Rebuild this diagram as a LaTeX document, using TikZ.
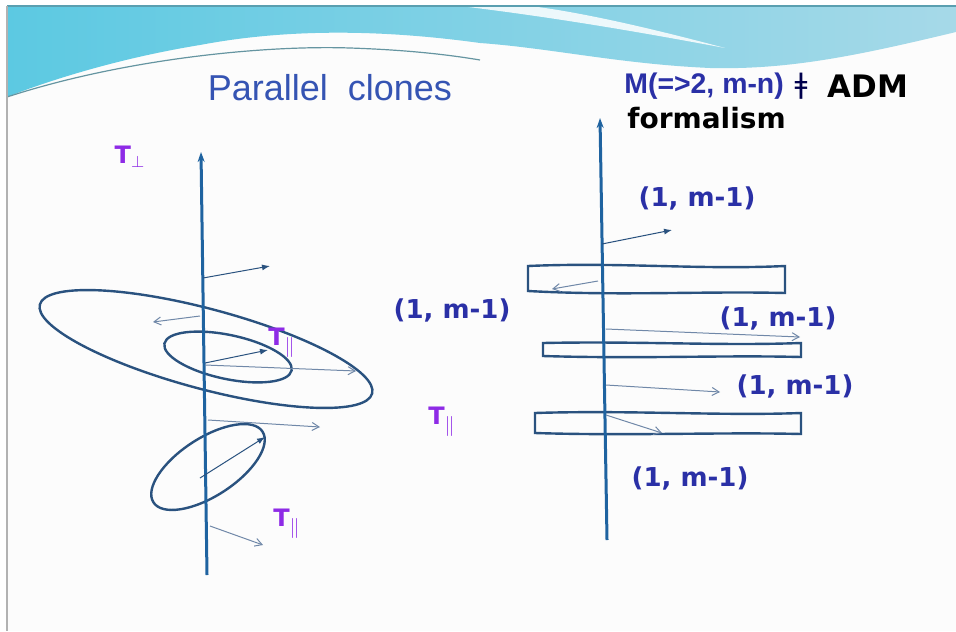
\documentclass[tikz,border=0pt]{standalone}
\usepackage{fontspec}
\setmainfont{Liberation Sans}[BoldFont={Liberation Sans Bold}]
\newfontfamily\dejavu{DejaVu Sans}[BoldFont={DejaVu Sans Bold}]
\usepackage{tikz}
\usetikzlibrary{arrows.meta,positioning}
\definecolor{axisblue}{HTML}{1F63A0}
\definecolor{ringblue}{HTML}{2A527F}
\definecolor{vecgray}{HTML}{7088A8}
\definecolor{labelblue}{HTML}{2A30A6}
\definecolor{tpurple}{HTML}{8E2BE6}
\definecolor{titleblue}{HTML}{3554B3}
\definecolor{waveblue}{HTML}{7EC2DA}
\definecolor{wavecyan}{HTML}{5CC9E2}
\definecolor{wavelight}{HTML}{A6D9E8}
\definecolor{edgeteal}{HTML}{5A9FB0}
\newcommand{\tpar}{T$_{\mbox{\fontsize{10}{10}\selectfont$\parallel$}}$}

\begin{document}
\begin{tikzpicture}[x=0.5pt,y=-0.5pt,
        axis/.style={draw=axisblue,line width=1.5pt,-{Stealth[length=5pt,width=3.5pt]}},
        ring/.style={draw=ringblue,line width=1.2pt},
        vec/.style={draw=vecgray,line width=0.5pt,-{Straight Barb[length=3.5pt,width=4pt]}},
        darkvec/.style={draw=ringblue,line width=0.5pt,-{Latex[length=4pt,width=3pt]}},
        lbl/.style={text=labelblue,font=\dejavu\bfseries\fontsize{13}{15}\selectfont,inner sep=0pt},
        tlbl/.style={text=tpurple,font=\dejavu\bfseries\fontsize{12}{14}\selectfont,inner sep=0pt}
    ]
        \useasboundingbox (0,0) rectangle (956,631);
        \fill[white] (0,0) rectangle (956,631);
        \fill[black!1] (7,6) rectangle (956,631);

        % header wave
        \shade[left color=wavecyan,middle color=waveblue,right color=wavelight]
            (7,6) -- (956,6) -- (956,32) .. controls (860,55) and (790,70) .. (710,68)
            .. controls (620,64) and (550,48) .. (480,43)
            .. controls (400,32) and (300,26) .. (200,45)
            .. controls (120,58) and (50,80) .. (7,97) -- cycle;
        \fill[white,opacity=0.85] (460,6) .. controls (560,18) and (650,34) .. (725,48)
            .. controls (650,28) and (580,12) .. (530,6) -- cycle;
        \draw[edgeteal!70!gray,line width=0.6pt] (7,97) .. controls (120,60) and (260,45) .. (350,48)
            .. controls (410,50) and (450,55) .. (480,60);
        \draw[edgeteal,line width=0.8pt] (7,6) -- (956,6);
        \draw[gray!60,line width=1pt] (7,6) -- (7,631);

        \node[text=titleblue,font=\fontsize{18}{20}\selectfont] (title) at (330,88) {Parallel\ \ clones};
        \node[anchor=west,text=labelblue,font=\bfseries\fontsize{14.2}{16}\selectfont,inner sep=0pt] (mtxt) at (624,86)
            {M(=>2, m-n)};
        \node[right=5pt of mtxt,text=black!70!blue,font=\dejavu\fontsize{14}{16}\selectfont,inner sep=0pt] (neq) {ǂ};
        \node[anchor=west,font=\dejavu\bfseries\fontsize{15.5}{17}\selectfont,inner sep=0pt] (adm) at (827,86) {ADM};
        \node[anchor=west,font=\dejavu\bfseries\fontsize{14}{16}\selectfont,inner sep=0pt] (formalism) at (627,118) {formalism};

        % left picture
        \draw[ring,rotate around={-15:(206,349)}] (206,349) ellipse [x radius=172,y radius=40];
        \draw[ring,rotate around={-12:(228,357)}] (228,357) ellipse [x radius=65,y radius=22];
        \draw[ring,rotate around={33:(208,467)}] (208,467) ellipse [x radius=65,y radius=29];
        \draw[axis] (207,575) -- (201,152);

        \draw[darkvec] (203,278) -- (270,266);
        \draw[vec] (200,316) -- (153,322);
        \draw[darkvec] (205,363) -- (268,350);
        \draw[vec] (205,365) -- (356,371);
        \draw[vec] (208,420) -- (320,427);
        \draw[darkvec] (200,478) -- (265,437);
        \draw[vec] (210,526) -- (263,545);

        \node[tlbl] (tperp) at (130,157) {T$_\perp$};
        \node[tlbl] (tpar1) at (282,343) {\tpar};
        \node[tlbl] (tpar2) at (287,524) {\tpar};

        % right picture
        \draw[ring] (528,266) .. controls (620,262) and (700,270) .. (785,266) -- (785,293)
            .. controls (700,291) and (620,296) .. (528,291) -- cycle;
        \draw[ring] (543,343) .. controls (640,341) and (720,346) .. (801,343) -- (801,357)
            .. controls (720,355) and (640,359) .. (543,356) -- cycle;
        \draw[ring] (535,413) .. controls (630,410) and (720,416) .. (801,413) -- (801,434)
            .. controls (720,432) and (630,436) .. (535,433) -- cycle;
        \draw[axis] (607,540) -- (600,118);

        \draw[darkvec] (602,244) -- (672,230);
        \draw[vec] (598,281) -- (552,289);
        \draw[vec] (606,329) -- (800,337);
        \draw[vec] (606,385) -- (720,392);
        \draw[vec] (606,415) -- (662,433);

        \node[lbl] (c1) at (697,198) {(1, m-1)};
        \node[lbl] (c2) at (452,310) {(1, m-1)};
        \node[lbl] (c3) at (778,318) {(1, m-1)};
        \node[lbl] (c4) at (795,386) {(1, m-1)};
        \node[lbl] (c5) at (690,478) {(1, m-1)};
        \node[tlbl] (tpar3) at (442,422) {\tpar};
    \end{tikzpicture}
\end{document}
